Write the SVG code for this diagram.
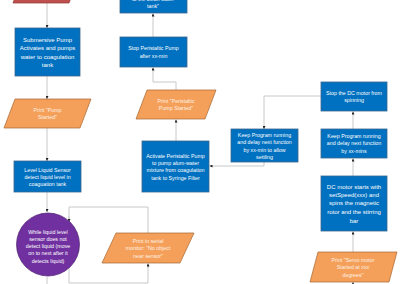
<svg xmlns="http://www.w3.org/2000/svg" width="400" height="284" viewBox="0 0 400 284">
<defs>
<marker id="ah" viewBox="0 0 6 6" refX="6" refY="3" markerWidth="3" markerHeight="3" markerUnits="userSpaceOnUse" orient="auto">
<path d="M0,0 L6,3 L0,6 z" fill="#222"/>
</marker>
<style>
.bx{fill:#0070C0;stroke:#3A6690;stroke-width:0.8}
.io{fill:#F5A05A;stroke:#A5662F;stroke-width:0.7}
.cn{fill:none;stroke:#C8C8C8;stroke-width:1}
.ar{marker-end:url(#ah)}
text{font-family:"Liberation Sans",Arial,sans-serif;font-size:5.3px;fill:#FFFFFF;text-anchor:middle}
.io-t{fill:#FDF0E4}
.big{font-size:6px}
</style>
</defs>
<rect width="400" height="284" fill="#FFFFFF"/>

<g id="connectors">
<path class="cn ar" d="M47,3 V28"/>
<path class="cn ar" d="M47,76 V99"/>
<path class="cn ar" d="M47,128 V161"/>
<path class="cn ar" d="M47,192 V212"/>
<path class="cn" d="M47,277 V284"/>
<path class="cn" d="M69,283 V207 H148 V233"/>
<path class="cn" d="M148,263 V283 H69"/>
<path class="cn ar" d="M69,216 V222"/>
<path class="cn ar" d="M148,268 V263.5"/>
<path class="cn ar" d="M176,141 V119.5"/>
<path class="cn ar" d="M176,90 V82 H153 V67.5"/>
<path class="cn ar" d="M153,37 V13.5"/>
<path class="cn ar" d="M353,284 V282"/>
<path class="cn ar" d="M353,252 V231.5"/>
<path class="cn ar" d="M353,176 V158.5"/>
<path class="cn ar" d="M353,129 V111.5"/>
<path class="cn ar" d="M321,96 H264 V129"/>
<path class="cn ar" d="M264,162 V166 H209.5"/>
</g>

<g id="start">
<polygon points="24,-26 80,-26 69,3 13,3" fill="#C0504D" stroke="#8C3330" stroke-width="0.7"/>
</g>

<g id="submersive">
<rect class="bx" x="15" y="28" width="65" height="48"/>
<text class="big" x="47.5" y="42">Submersive Pump</text>
<text class="big" x="47.5" y="50.3">Activates and pumps</text>
<text class="big" x="47.5" y="58.6">water to coagulation</text>
<text class="big" x="47.5" y="67">tank</text>
</g>

<g id="print-pump">
<polygon class="io" points="15,99 91,99 80,128 4,128"/>
<text class="io-t" x="47.5" y="112">Print "Pump</text>
<text class="io-t" x="47.5" y="119.3">Started"</text>
</g>

<g id="level-sensor">
<rect class="bx" x="14" y="161" width="67" height="31"/>
<text x="47.5" y="171.8">Level Liquid Sensor</text>
<text x="47.5" y="179.1">detect liquid level in</text>
<text x="47.5" y="186.3">coaguation tank</text>
</g>

<g id="while-loop">
<circle cx="48" cy="244.5" r="31.5" fill="#7030A0" stroke="#4B1F6E" stroke-width="0.7"/>
<text x="48" y="233.5">While liquid level</text>
<text x="48" y="240.8">sensor does not</text>
<text x="48" y="248">detect liquid (move</text>
<text x="48" y="255.3">on to next after it</text>
<text x="48" y="262.5">detects liquid)</text>
</g>

<g id="print-no-object">
<polygon class="io" points="116,233 194,233 180,263 102,263"/>
<text class="io-t" x="148" y="243">Print in serial</text>
<text class="io-t" x="148" y="250.3">monitor: "No object</text>
<text class="io-t" x="148" y="257.6">near sensor"</text>
</g>

<g id="top-box">
<rect class="bx" x="120" y="-20" width="67" height="33"/>
<text x="153" y="0.6">to the clean water</text>
<text x="153" y="7.6">tank"</text>
</g>

<g id="stop-peristaltic">
<rect class="bx" x="120" y="37" width="67" height="30"/>
<text x="153.5" y="50.2">Stop Peristaltic Pump</text>
<text x="153.5" y="57.6">after xx-min</text>
</g>

<g id="print-peristaltic">
<polygon class="io" points="147,90 216,90 205,119 136,119"/>
<text class="io-t" x="176" y="103">Print "Peristaltic</text>
<text class="io-t" x="176" y="110.3">Pump Started"</text>
</g>

<g id="activate-peristaltic">
<rect class="bx" x="142" y="141" width="67" height="51"/>
<text x="175.5" y="157.6">Activate Peristaltic Pump</text>
<text x="175.5" y="164.9">to pump alum-water</text>
<text x="175.5" y="172.2">mixture from coagulation</text>
<text x="175.5" y="179.6">tank to Syringe Filter</text>
</g>

<g id="keep-settling">
<rect class="bx" x="231" y="129" width="67" height="33"/>
<text x="264.5" y="136.9">Keep Program running</text>
<text x="264.5" y="144.2">and delay next function</text>
<text x="264.5" y="151.5">by  xx-min to allow</text>
<text x="264.5" y="158.6">settling</text>
</g>

<g id="stop-dc">
<rect class="bx" x="321" y="82" width="66" height="29"/>
<text x="354" y="94.6">Stop the DC motor from</text>
<text x="354" y="101.9">spinning</text>
</g>

<g id="keep-mins">
<rect class="bx" x="321" y="129" width="66" height="29"/>
<text x="354" y="137.9">Keep Program running</text>
<text x="354" y="145.2">and delay next function</text>
<text x="354" y="152.6">by xx-mins</text>
</g>

<g id="dc-motor">
<rect class="bx" x="321" y="176" width="66" height="55"/>
<text class="big" x="354" y="188.8">DC motor starts with</text>
<text class="big" x="354" y="197.1">setSpeed(xxx) and</text>
<text class="big" x="354" y="205.4">spins the magnetic</text>
<text class="big" x="354" y="214">rotor and the stirring</text>
<text class="big" x="354" y="222.7">bar</text>
</g>

<g id="print-servo">
<polygon class="io" points="318,252 397,252 389,282 310,282"/>
<text class="io-t" x="353" y="261.9">Print "Servo motor</text>
<text class="io-t" x="353" y="269.2">Started at xxx</text>
<text class="io-t" x="353" y="276.8">degrees"</text>
</g>
</svg>
